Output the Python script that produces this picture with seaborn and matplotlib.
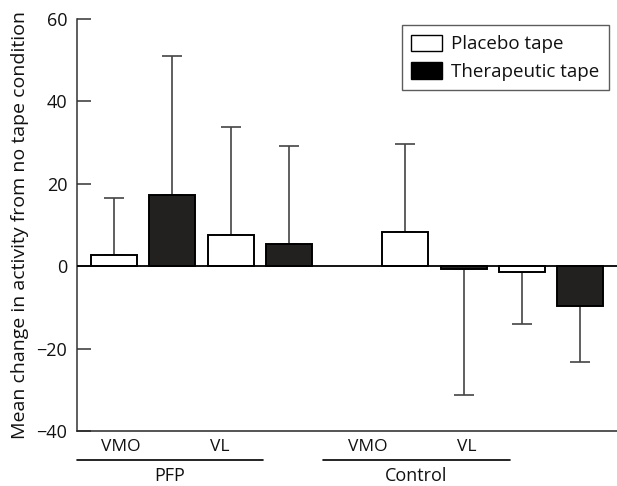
import pandas as pd
import numpy as np
import seaborn as sns
import matplotlib.pyplot as plt
import matplotlib.transforms as mtransforms
from matplotlib.patches import Patch

# Values (mean change and SD, one-sided error bars)
groups = ["PFP", "PFP", "PFP", "PFP", "Control", "Control", "Control", "Control"]
muscles = ["VMO", "VMO", "VL", "VL", "VMO", "VMO", "VL", "VL"]
tapes = ["Placebo tape", "Therapeutic tape"] * 4
means = [2.7, 17.2, 7.5, 5.5, 8.3, -0.7, -1.3, -9.7]
sds = [13.8, 33.9, 26.4, 23.6, 21.4, 30.6, 12.7, 13.5]
muscle_labels = ["VMO", "VL", "VMO", "VL"]
group_labels = ["PFP", "Control"]

# bar slots, one empty slot between the two groups
slots = [0, 1, 2, 3, 5, 6, 7, 8]

df = pd.DataFrame({
    "group": groups,
    "muscle": muscles,
    "tape": tapes,
    "mean": means,
    "sd": sds,
    "slot": slots,
})

sns.set_style("ticks")
plt.rcParams["font.family"] = ["Open Sans", "DejaVu Sans"]
plt.rcParams["text.color"] = "#111111"
plt.rcParams["axes.labelcolor"] = "#111111"
plt.rcParams["ytick.labelcolor"] = "#111111"
plt.rcParams["xtick.labelcolor"] = "#111111"

fig = plt.figure(figsize=(6.17, 4.86), dpi=100)
ax = fig.add_axes([77 / 617, 55 / 486, 540 / 617, 412 / 486])

palette = {"Placebo tape": "white", "Therapeutic tape": "#231f20"}
sns.barplot(data=df, x="slot", y="mean", hue="tape", palette=palette,
            native_scale=True, dodge=False, width=0.79, errorbar=None,
            edgecolor="black", linewidth=1.4, legend=False, ax=ax, zorder=3)

# one-sided error bars (up for positive means, down for negative)
lower = np.where(df["mean"] < 0, df["sd"], 0)
upper = np.where(df["mean"] >= 0, df["sd"], 0)
ax.errorbar(df["slot"], df["mean"], yerr=[lower, upper], fmt="none",
            ecolor="#444444", elinewidth=1.2, capsize=7.5, capthick=1.2,
            zorder=2)

ax.axhline(0, color="black", lw=1.3, zorder=4)

ax.set_ylim(-40, 60)
ax.set_xlim(-0.635, 8.63)
ax.set_yticks([-40, -20, 0, 20, 40, 60])
ax.tick_params(axis="y", direction="in", length=10, width=1.1, pad=7,
               labelsize=13, color="#333333")
ax.set_ylabel("Mean change in activity from no tape condition", fontsize=14,
              labelpad=5)

# muscle labels under the axis
ax.set_xticks([0.12, 1.82, 4.36, 6.05])
ax.set_xticklabels(muscle_labels, fontsize=12.5)
ax.tick_params(axis="x", length=0, pad=6)
ax.set_xlabel("")

sns.despine(ax=ax, top=True, right=True)
ax.spines["left"].set_linewidth(1.1)
ax.spines["bottom"].set_linewidth(1.1)
ax.spines["left"].set_color("#333333")

# group brackets
trans = mtransforms.blended_transform_factory(ax.transData, ax.transAxes)
for (x0, x1), lab in zip([(-0.635, 2.556), (3.585, 6.79)], group_labels):
    ax.plot([x0, x1], [-0.0704, -0.0704], color="black", lw=1.2,
            transform=trans, clip_on=False)
    ax.text((x0 + x1) / 2, -0.11, lab, transform=trans, ha="center",
            va="center", fontsize=13)

handles = [Patch(facecolor="white", edgecolor="black", lw=1.0),
           Patch(facecolor="black", edgecolor="black", lw=1.0)]
leg = ax.legend(handles, ["Placebo tape", "Therapeutic tape"],
                loc="upper right", bbox_to_anchor=(0.985, 0.985),
                fontsize=13.5, frameon=True, fancybox=False,
                handlelength=1.65, handleheight=1.0, handletextpad=0.5,
                labelspacing=0.45, borderpad=0.5, borderaxespad=0.0)
leg.get_frame().set_edgecolor("#333333")
leg.get_frame().set_linewidth(1.0)

fig.savefig("out.png", dpi=100)
